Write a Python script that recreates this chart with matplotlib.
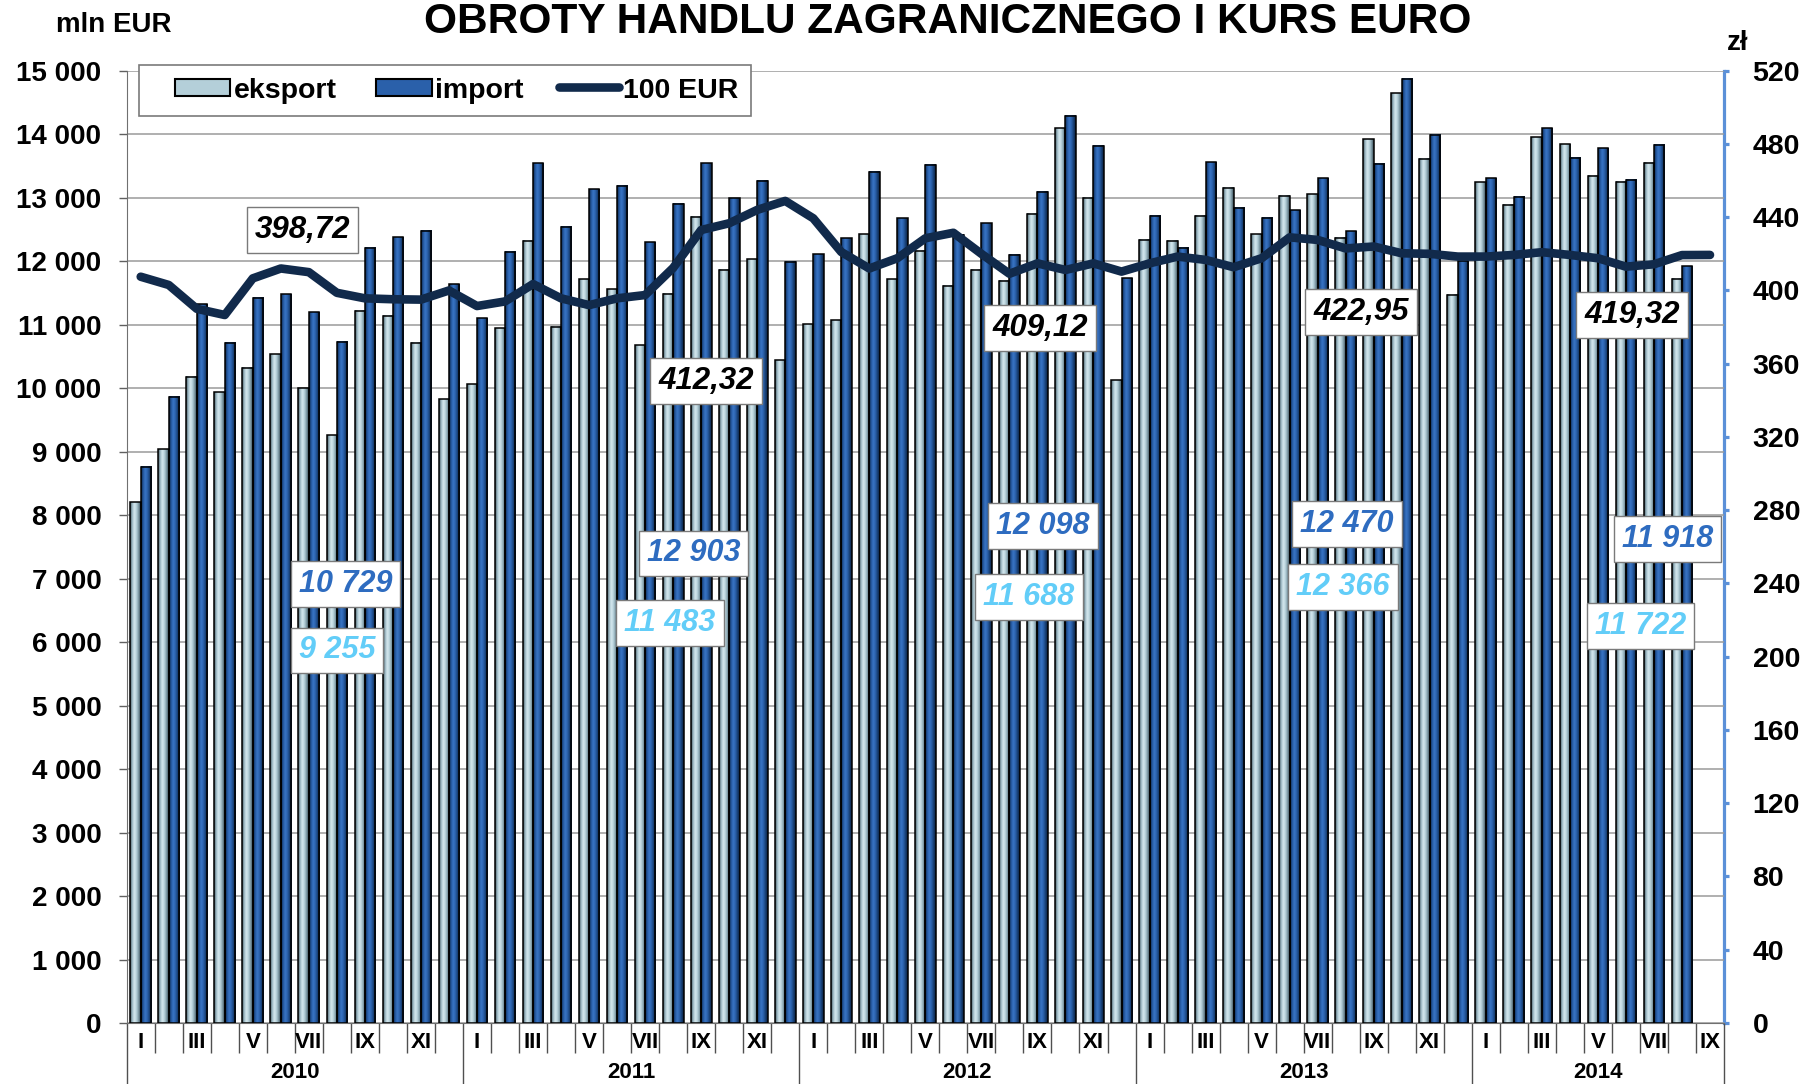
import numpy as np
import matplotlib
matplotlib.use('Agg')
import matplotlib.pyplot as plt
from matplotlib.colors import LinearSegmentedColormap
from matplotlib.legend_handler import HandlerBase
from matplotlib.lines import Line2D
from matplotlib.patches import Patch, Rectangle
from matplotlib.ticker import FuncFormatter
from matplotlib.transforms import blended_transform_factory

plt.rcParams['font.family'] = ['Liberation Sans', 'DejaVu Sans']
plt.rcParams['font.weight'] = 'bold'

# ---------------------------------------------------------------------------
# Data: monthly trade (mln EUR) and average price of 100 EUR in PLN
# ---------------------------------------------------------------------------
YEARS = [2010, 2011, 2012, 2013, 2014]
MONTHS = ['I', 'II', 'III', 'IV', 'V', 'VI', 'VII', 'VIII', 'IX', 'X', 'XI', 'XII']
N_CATS = 57          # I 2010 .. IX 2014

eksport = [
    8200, 9035, 10180, 9934, 10322, 10533, 9997, 9255, 11220, 11141, 10715, 9828,
    10065, 10942, 12323, 10968, 11714, 11557, 10674, 11483, 12701, 11861, 12030, 10443,
    11010, 11073, 12424, 11714, 12161, 11609, 11861, 11688, 12744, 14094, 13001, 10128,
    12334, 12323, 12717, 13159, 12424, 13033, 13054, 12366, 13921, 14646, 13611, 11468,
    13243, 12886, 13953, 13842, 13348, 13254, 13553, 11722,
]
importy = [
    8761, 9865, 11321, 10715, 11425, 11478, 11195, 10729, 12213, 12377, 12481, 11636,
    11100, 12150, 13543, 12544, 13133, 13190, 12298, 12903, 13543, 12991, 13264, 11992,
    12109, 12361, 13406, 12676, 13516, 12413, 12597, 12098, 13095, 14293, 13820, 11731,
    12717, 12213, 13559, 12843, 12686, 12800, 13306, 12470, 13532, 14871, 13989, 12000,
    13306, 13012, 14094, 13632, 13779, 13280, 13831, 11918,
]
kurs_100eur = [
    407.5, 403.0, 390.0, 386.6, 406.6, 412.0, 410.0, 398.72, 395.7, 395.2, 395.0, 400.0,
    391.5, 394.0, 403.5, 395.7, 392.0, 395.7, 397.5, 412.32, 433.0, 436.7, 444.0, 448.9,
    439.4, 421.0, 412.0, 417.6, 428.5, 431.5, 420.0, 409.12, 414.8, 411.2, 414.8, 410.3,
    414.8, 418.5, 416.7, 412.7, 417.6, 429.0, 427.6, 422.95, 424.0, 420.3, 420.0, 418.5,
    418.5, 419.4, 420.9, 419.4, 417.6, 413.0, 414.3, 419.32, 419.4,
]

# August of each year gets value callouts
CALLOUT_IDX = [7, 19, 31, 43, 55]
# callout box centres (category, mln EUR)
RATE_POS = [(5.77, 12487), (20.17, 10109), (32.1, 10952), (43.54, 11204), (53.22, 11147)]
IMP_POS = [(7.31, 6916), (19.73, 7396), (32.2, 7826), (43.04, 7858), (54.49, 7625)]
EXP_POS = [(7.0, 5868), (18.89, 6296), (31.7, 6716), (42.91, 6873), (53.53, 6258)]

LEFT_MAX = 15000
RIGHT_MAX = 520

EXP_CMAP = LinearSegmentedColormap.from_list(
    'exp', ['#3e5058', '#9dbac6', '#d8eaf0', '#b4cfd9', '#7a96a2', '#34454d'])
IMP_CMAP = LinearSegmentedColormap.from_list(
    'imp', ['#0d2342', '#2458a0', '#3a76c6', '#2a60aa', '#173e72', '#0b1d38'])
LINE_COLOR = '#112a4b'
AXIS_BLUE = '#5b90d8'
LINE_W = 6.2


def thousands(v):
    s = f'{int(round(v)):,}'
    return s.replace(',', ' ')


def to_left(r):
    return r * LEFT_MAX / RIGHT_MAX


def gradient_bars(ax, xs, heights, width, cmap):
    grad = np.linspace(0, 1, 64).reshape(1, -1)
    bars = ax.bar(xs, heights, width, facecolor='none', edgecolor='black',
                  linewidth=1.1, zorder=3)
    for rect in bars:
        x0, w, h = rect.get_x(), rect.get_width(), rect.get_height()
        ax.imshow(grad, cmap=cmap, aspect='auto', interpolation='bicubic',
                  extent=(x0, x0 + w, 0, h), zorder=2.5)
    return bars


class RightAlignedHandle(HandlerBase):
    """Legend key drawn flush against its label, narrower than the key slot."""

    def __init__(self, width_em, height_em=0.6):
        super().__init__()
        self.width_em = width_em
        self.height_em = height_em

    def create_artists(self, legend, orig_handle, xdescent, ydescent, width,
                       height, fontsize, trans):
        w = self.width_em * fontsize
        x1 = width - xdescent
        yc = height / 2 - ydescent
        if isinstance(orig_handle, Line2D):
            art = Line2D([x1 - w, x1], [yc, yc], color=orig_handle.get_color(),
                         lw=orig_handle.get_linewidth(), solid_capstyle='round')
        else:
            h = self.height_em * fontsize
            art = Rectangle((x1 - w, yc - h / 2), w, h,
                            facecolor=orig_handle.get_facecolor(),
                            edgecolor='black', lw=1.5)
        art.set_transform(trans)
        return [art]


fig = plt.figure(figsize=(18.02, 10.84), dpi=100)
ax = fig.add_axes([0.07031, 0.05627, 0.88641, 0.87851])

x = np.arange(len(eksport))
gradient_bars(ax, x - 0.185, eksport, 0.37, EXP_CMAP)
gradient_bars(ax, x + 0.185, importy, 0.37, IMP_CMAP)

xl = np.arange(len(kurs_100eur))
ax.plot(xl, [to_left(r) for r in kurs_100eur], color=LINE_COLOR, lw=LINE_W,
        solid_capstyle='round', solid_joinstyle='round', zorder=5)

ax.set_xlim(-0.5, N_CATS - 0.5)
ax.set_ylim(0, LEFT_MAX)

# left axis
ax.set_yticks(np.arange(0, LEFT_MAX + 1, 1000))
ax.yaxis.set_major_formatter(FuncFormatter(lambda v, _: thousands(v)))
ax.tick_params(axis='y', direction='out', length=5.8, width=1, color='#606060',
               labelsize=20, pad=12.5)
ax.yaxis.grid(True, color='#9a9a9a', lw=1.1)
ax.set_axisbelow(True)
for lab in ax.get_yticklabels():
    lab.set_fontweight('bold')

for side in ('top', 'right'):
    ax.spines[side].set_visible(False)
ax.spines['left'].set_color('#707070')
ax.spines['bottom'].set_color('#707070')

# right axis: price of 100 EUR
sec = ax.secondary_yaxis('right', functions=(lambda v: v * RIGHT_MAX / LEFT_MAX,
                                             lambda r: r * LEFT_MAX / RIGHT_MAX))
sec.set_yticks(np.arange(0, RIGHT_MAX + 1, 40))
sec.spines['right'].set_color(AXIS_BLUE)
sec.spines['right'].set_linewidth(2.3)
sec.tick_params(axis='y', direction='out', length=3.6, width=2.3, color=AXIS_BLUE,
                labelsize=20.5, pad=17)
for lab in sec.get_yticklabels():
    lab.set_fontweight('bold')

# category axis: month separators and year separators
bounds = np.arange(-0.5, N_CATS, 1.0)
year_bounds = [-0.5, 11.5, 23.5, 35.5, 47.5, N_CATS - 0.5]
ax.set_xticks(year_bounds)
ax.set_xticks(bounds, minor=True)
ax.tick_params(axis='x', which='major', direction='out', length=44, width=1,
               color='#505050', labelbottom=False)
ax.tick_params(axis='x', which='minor', direction='out', length=21.6, width=1,
               color='#505050', labelbottom=False)

trans = blended_transform_factory(ax.transData, ax.transAxes)
for i in range(N_CATS):
    m = i % 12
    if m % 2 == 0:
        ax.text(i, -0.020, MONTHS[m], transform=trans, ha='center', va='center',
                fontsize=16, fontweight='bold')
for k, yr in enumerate(YEARS):
    centre = (year_bounds[k] + year_bounds[k + 1]) / 2
    ax.text(centre, -0.0515, str(yr), transform=trans, ha='center', va='center',
            fontsize=16, fontweight='bold')

# value callouts
box = dict(boxstyle='square,pad=0.26', facecolor='white', edgecolor='#7a7a7a', lw=1)
for k, idx in enumerate(CALLOUT_IDX):
    rate_txt = f'{kurs_100eur[idx]:.2f}'.replace('.', ',')
    ax.text(*RATE_POS[k], rate_txt, ha='center', va='center', fontsize=22.5,
            fontweight='bold', fontstyle='italic', color='black', bbox=box, zorder=7)
    ax.text(*IMP_POS[k], thousands(importy[idx]), ha='center', va='center',
            fontsize=22, fontweight='bold', fontstyle='italic', color='#2e6cc0',
            bbox=box, zorder=7)
    ax.text(*EXP_POS[k], thousands(eksport[idx]), ha='center', va='center',
            fontsize=22, fontweight='bold', fontstyle='italic', color='#62cdf8',
            bbox=box, zorder=7)

# legend
h_exp = Patch(facecolor='#b4cfd9', label='eksport')
h_imp = Patch(facecolor='#2a60aa', label='import')
h_eur = Line2D([], [], color=LINE_COLOR, lw=LINE_W, label='100 EUR')
leg = ax.legend(handles=[h_exp, h_imp, h_eur], loc='upper left',
                bbox_to_anchor=(0.0077, 1.0063), ncol=3, frameon=True,
                fancybox=False, framealpha=1, edgecolor='#7a7a7a',
                prop=dict(size=20.5, weight='bold'),
                handler_map={h_exp: RightAlignedHandle(1.95),
                             h_imp: RightAlignedHandle(1.95),
                             h_eur: RightAlignedHandle(2.1)},
                handlelength=2.75, handleheight=0.6, handletextpad=0.12,
                columnspacing=0.6, borderpad=0.45, borderaxespad=0)
leg.get_frame().set_linewidth(1.2)
leg.set_zorder(8)

# titles
fig.text(0.526, 0.980, 'OBROTY HANDLU ZAGRANICZNEGO I KURS EURO', ha='center',
         va='center', fontsize=30.5, fontweight='bold')
fig.text(0.0633, 0.977, 'mln EUR', ha='center', va='center', fontsize=20,
         fontweight='bold')
fig.text(0.964, 0.960, 'zł', ha='center', va='center', fontsize=20, fontweight='bold')

fig.savefig('out.png', dpi=100)
